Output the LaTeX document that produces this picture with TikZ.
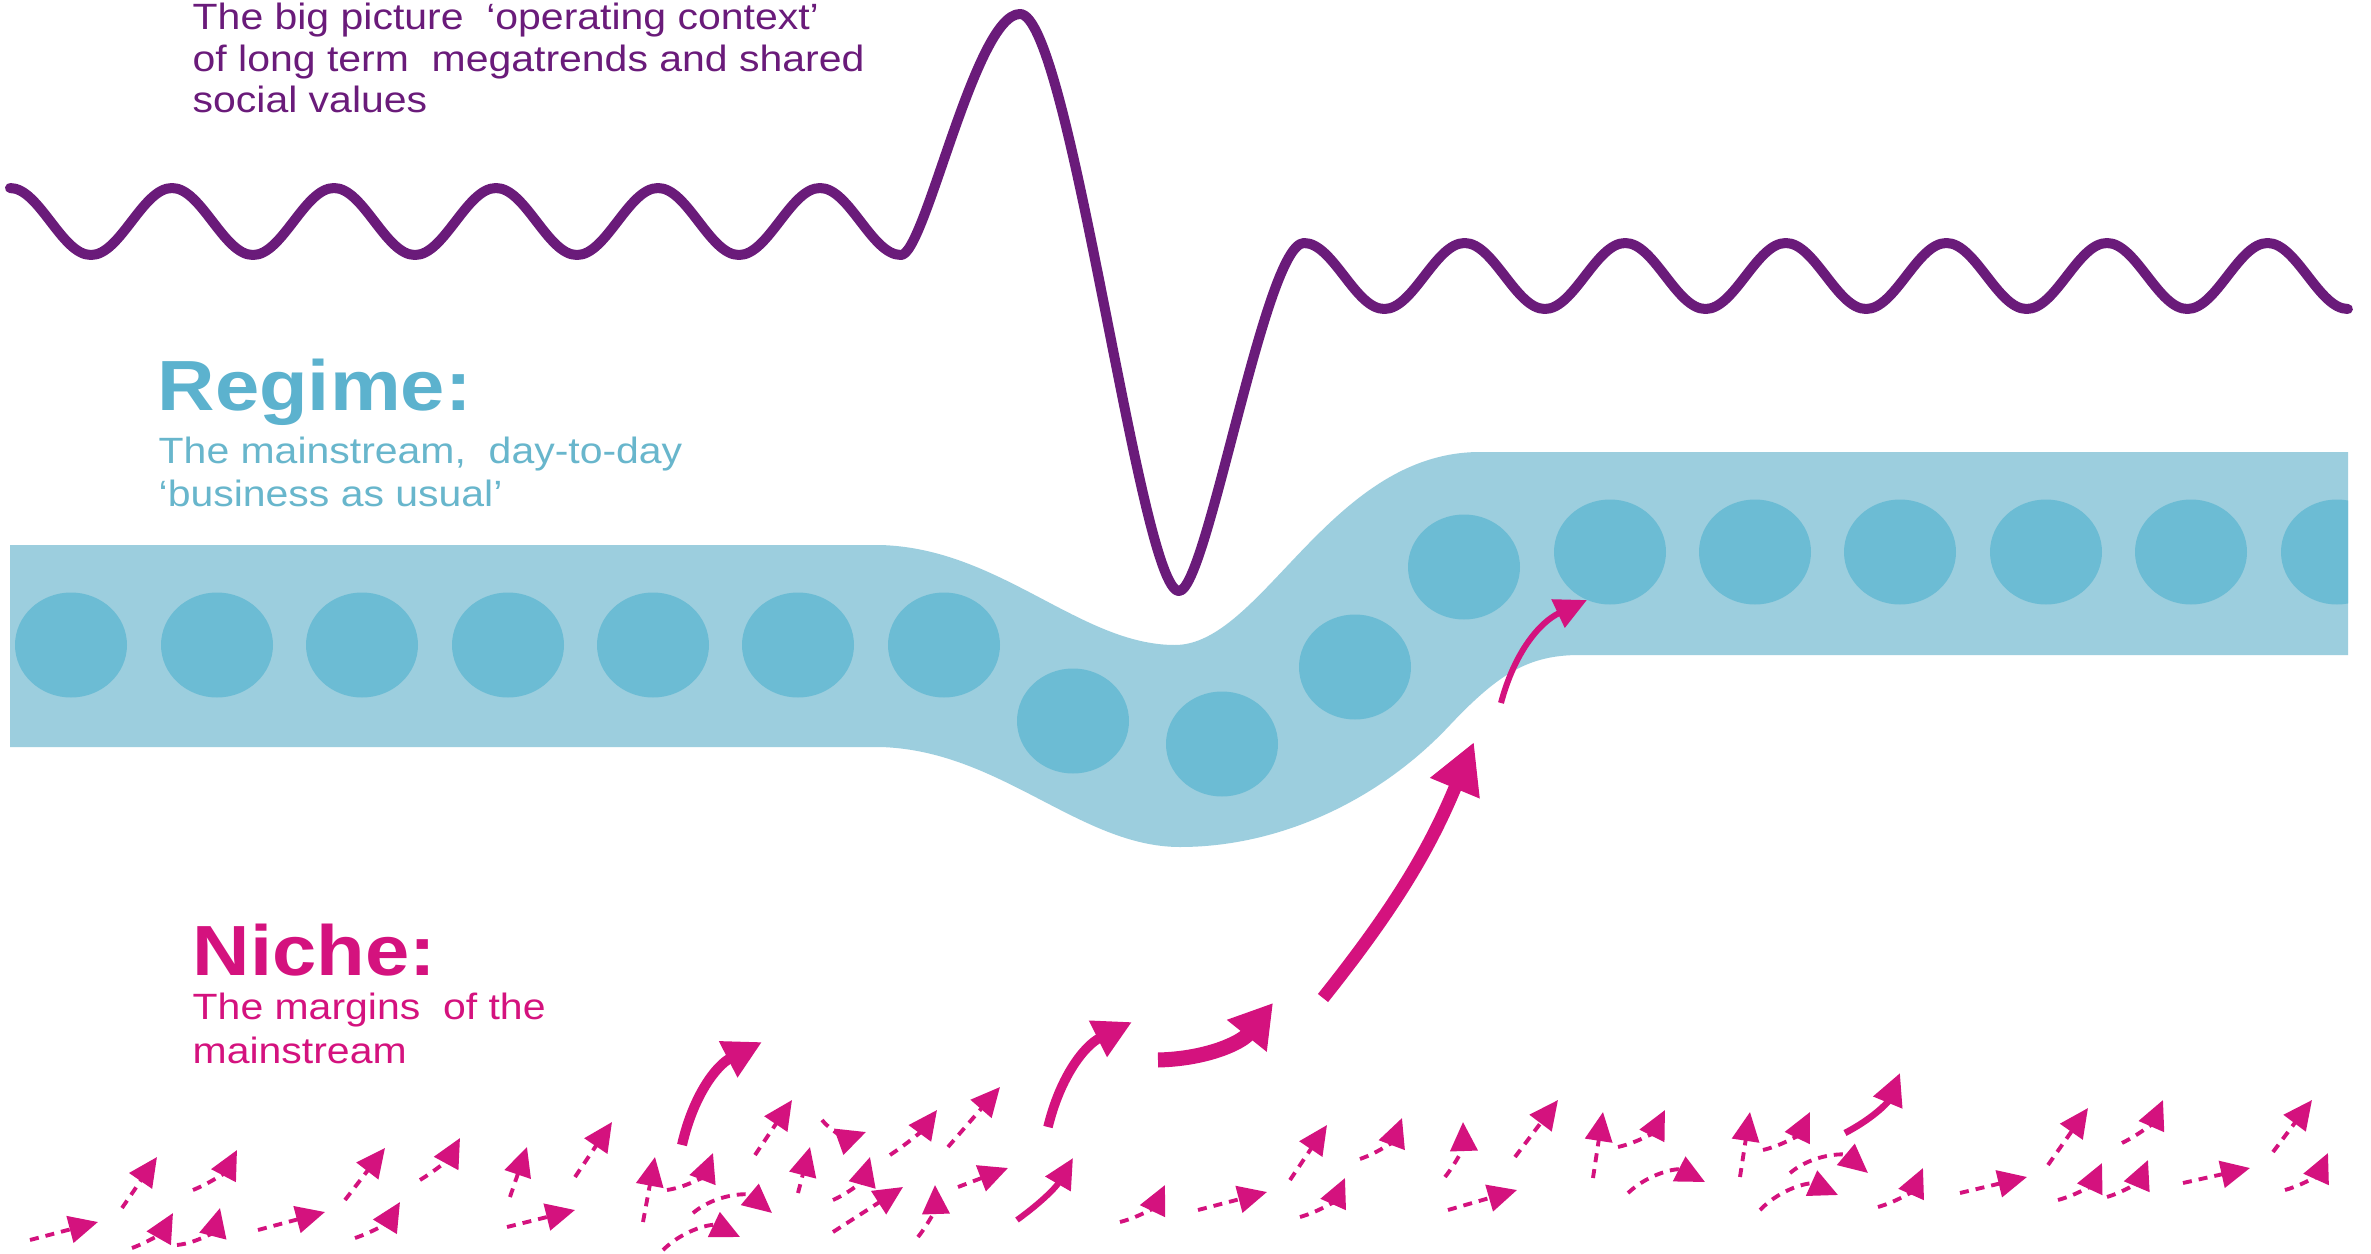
\documentclass[tikz,border=0pt]{standalone}
\usepackage{fontspec}
\setmainfont{Liberation Sans}[FakeStretch=1.12]
\usetikzlibrary{arrows.meta}
\definecolor{wavepurple}{RGB}{106,27,122}
\definecolor{bandblue}{RGB}{156,206,222}
\definecolor{dotblue}{RGB}{108,188,212}
\definecolor{regblue}{RGB}{92,178,206}
\definecolor{regtext}{RGB}{104,182,204}
\definecolor{mag}{RGB}{212,18,126}
\begin{document}
\begin{tikzpicture}[x=0.01cm,y=-0.01cm,
  wave/.style={draw=wavepurple,line width=0.1cm,line cap=round,line join=round},
  dot/.style={fill=dotblue},
  body/.style={inner sep=0pt,anchor=base west,font=\fontsize{10.4pt}{12pt}\selectfont},
  title/.style={inner sep=0pt,anchor=base west,font=\fontsize{20.2pt}{24pt}\selectfont\bfseries},
  dsh/.style={draw=mag,line width=1.1pt,dash pattern=on 0.09cm off 0.07cm,-{Triangle[length=0.29cm,width=0.27cm]}},
  bigarrow/.style={draw=mag,line width=#1}
]
\useasboundingbox (0,0) rectangle (2371,1254);
\fill[white] (0,0) rectangle (2371,1254);

% regime band
\fill[bandblue] (10,545) -- (880,545) .. controls (1000,548) and (1080,645) .. (1175,645)
  .. controls (1262,645) and (1330,452) .. (1480,452) -- (2348,452) -- (2348,655) -- (1580,655)
  .. controls (1530,655) and (1500,672) .. (1450,725)
  .. controls (1380,800) and (1280,847) .. (1180,847)
  .. controls (1080,847) and (1000,750) .. (880,747) -- (10,747) -- cycle;
\begin{scope}
\clip (0,0) rectangle (2348,1254);
\foreach \cx/\cy in {71/645,217/645,362/645,508/645,653/645,798/645,944/645,
  1073/721,1222/744,1355/667,1464/567,
  1610/552,1755/552,1900/552,2046/552,2191/552,2337/552}
  \fill[dot] (\cx,\cy) ellipse [x radius=56, y radius=52.5];
\end{scope}

% operating context wave
\draw[wave] (10,188)
  \foreach \i in {1,...,5} { cos ++(40.5,33.5) sin ++(40.5,33.5) cos ++(40.5,-33.5) sin ++(40.5,-33.5) }
  cos ++(40.5,33.5) sin ++(40.5,33.5)
  .. controls (925,255) and (975,14) .. (1020,14)
  .. controls (1070,14) and (1140,591) .. (1179,591)
  .. controls (1207,591) and (1265,243) .. (1304,243)
  \foreach \i in {1,...,6} { cos ++(40.15,33) sin ++(40.15,33) cos ++(40.15,-33) sin ++(40.15,-33) }
  cos ++(40.15,33) sin ++(40.15,33);

% texts
\node[body,text=wavepurple] (ctx1) at (192,29) {The big picture~ ‘operating context’};
\node[body,text=wavepurple] (ctx2) at (192,71) {of long term~ megatrends and shared};
\node[body,text=wavepurple] (ctx3) at (192,112) {social values};
\node[title,text=regblue] (regT) at (157,410) {Regime:};
\node[body,text=regtext] (reg1) at (158,463) {The mainstream,~ day-to-day};
\node[body,text=regtext] (reg2) at (158,506) {‘business as usual’};
\node[title,text=mag] (nicT) at (192,975) {Niche:};
\node[body,text=mag] (nic1) at (192,1019) {The margins~ of the};
\node[body,text=mag] (nic2) at (192,1063) {mainstream};

% big solid arrows
\draw[bigarrow=0.1cm,-{Triangle[length=0.38cm,width=0.38cm]}] (682,1145) to[bend left=25] (762,1042);
\draw[bigarrow=0.095cm,-{Triangle[length=0.38cm,width=0.38cm]}] (1048,1127) to[bend left=25] (1132,1022);
\draw[bigarrow=0.15cm,-{Triangle[length=0.42cm,width=0.48cm]}] (1158,1060) to[bend right=25] (1273,1003);
\draw[bigarrow=0.13cm,-{Triangle[length=0.5cm,width=0.5cm]}] (1323,998) to[bend right=8] (1474,742);
\draw[bigarrow=0.06cm,-{Triangle[length=0.32cm,width=0.3cm]}] (1501,703) to[bend left=25] (1587,600);
\draw[bigarrow=0.06cm,-{Triangle[length=0.3cm,width=0.28cm]}] (1017,1220) to[bend right=12] (1073,1158);
\draw[bigarrow=0.065cm,-{Triangle[length=0.32cm,width=0.3cm]}] (1845,1133) to[bend right=20] (1900,1073);

% small dashed niche arrows
\foreach \ax/\ay/\bx/\by/\bb in {
  30/1240/98/1222/0, 122/1208/157/1157/0, 193/1190/237/1150/20, 132/1248/173/1213/20,
  177/1245/220/1208/35, 258/1230/325/1212/0, 345/1200/385/1148/0, 355/1238/400/1202/20,
  420/1180/460/1138/15, 507/1227/575/1210/0, 510/1197/527/1147/0, 575/1177/612/1122/0,
  643/1222/655/1157/0, 667/1190/713/1153/30, 693/1213/772/1213/-40, 663/1250/740/1237/-35,
  755/1155/792/1100/0, 822/1120/866/1132/35, 798/1193/810/1147/0, 833/1200/870/1157/25,
  833/1232/903/1187/0, 890/1155/937/1110/10, 948/1147/1000/1087/0, 918/1237/935/1185/20,
  958/1187/1008/1168/0, 1120/1222/1165/1185/25, 1198/1210/1267/1192/0, 1290/1180/1327/1125/0,
  1300/1217/1345/1178/25, 1360/1159/1402/1118/25, 1445/1177/1463/1122/20, 1448/1210/1517/1190/0,
  1515/1157/1558/1100/0, 1593/1178/1603/1112/0, 1618/1147/1665/1110/25, 1628/1193/1705/1182/-35,
  1740/1177/1750/1112/0, 1763/1150/1810/1112/25, 1790/1173/1868/1173/-40, 1760/1210/1838/1195/-35,
  1878/1207/1923/1168/25, 1960/1193/2027/1177/0, 2048/1165/2088/1108/0, 2058/1200/2102/1163/25,
  2107/1197/2148/1160/25, 2122/1143/2163/1100/20, 2183/1183/2250/1168/0, 2273/1152/2312/1100/0,
  2285/1190/2328/1153/25}
  \draw[dsh] (\ax,\ay) to[bend right=\bb] (\bx,\by);
\end{tikzpicture}
\end{document}
